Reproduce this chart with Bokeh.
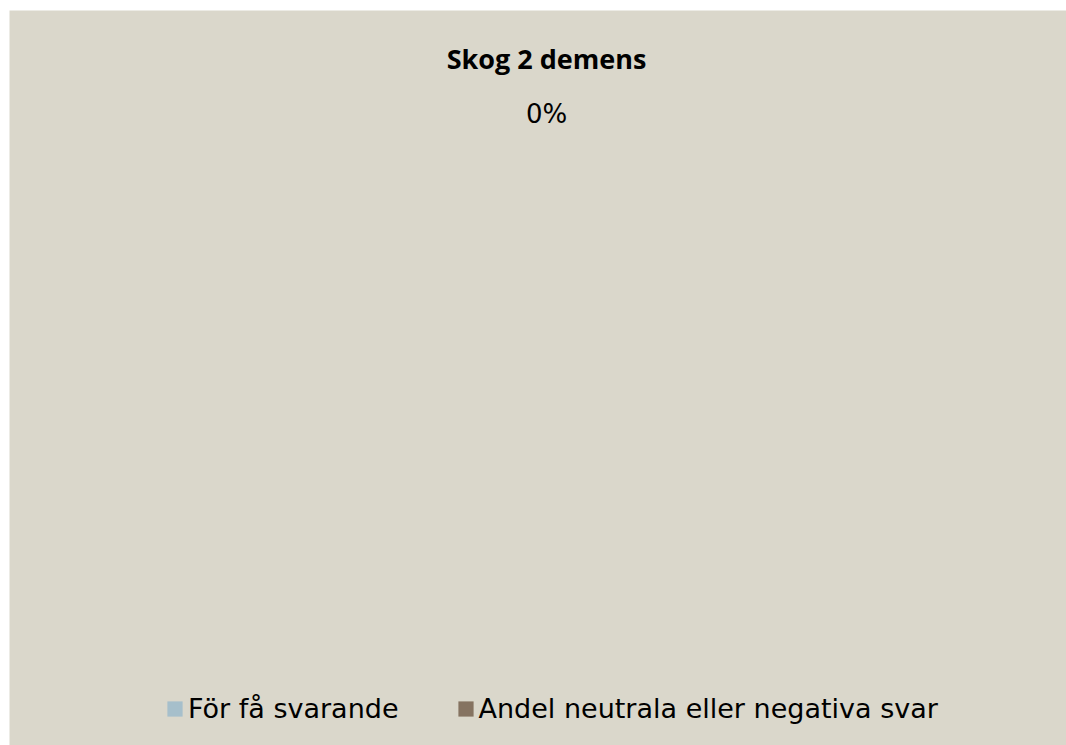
from bokeh.plotting import figure
from bokeh.models import Range1d, Legend, LegendItem, ColumnDataSource
from bokeh.core.properties import value
from bokeh.embed import file_html
from bokeh.resources import INLINE
import math

# ---- data ----
title_text = "Skog 2 demens"
categories = ["För få svarande", "Andel neutrala eller negativa svar"]
values = [float("nan"), 0.0]          # percent
colors = ["#A6BFCB", "#857361"]
bg = "#DAD7CB"

W, H = 1066, 745
L, T = 9, 10
p = figure(width=W, height=H, output_backend="svg", toolbar_location=None,
           x_range=Range1d(L, W), y_range=Range1d(H, T),
           min_border=0, min_border_left=L, min_border_right=0,
           min_border_top=T, min_border_bottom=0)
p.axis.visible = False
p.grid.visible = False
p.outline_line_color = None
p.background_fill_color = bg
p.border_fill_color = "#FFFFFF"

cx = 546
# title drawn as text
p.text(x=[cx], y=[58], text=[title_text], text_font=value("Open Sans"),
       text_font_style="bold", text_font_size="27px", text_align="center",
       text_baseline="alphabetic", text_color="#000000")

# pie
cy, r = 410, 262
valid = [v for v in values if not math.isnan(v)]
total = sum(valid)
start = math.pi / 2
renderers = []
label_x, label_y, label_t = [], [], []
for cat, v, c in zip(categories, values, colors):
    frac = 0.0 if (math.isnan(v) or total == 0) else v / total
    end = start - frac * 2 * math.pi
    # empty slices get zero radius so nothing is drawn
    src = ColumnDataSource(dict(x=[cx], y=[cy], s=[end], e=[start],
                                rad=[r if frac > 0 else 0.0]))
    rr = p.wedge(x="x", y="y", radius="rad", start_angle="s", end_angle="e",
                 direction="anticlock", fill_color=c, line_color=None, source=src)
    renderers.append(rr)
    if not math.isnan(v):
        mid = (start + end) / 2
        label_x.append(cx + (r * 1.13) * math.cos(mid))
        label_y.append(cy - (r * 1.13) * math.sin(mid))
        label_t.append(f"{v:.0f}%")
    start = end

p.text(x=label_x, y=label_y, text=label_t, text_font=value("DejaVu Sans"),
       text_font_size="26px", text_align="center", text_baseline="alphabetic",
       text_color="#000000")

legend = Legend(items=[LegendItem(label=c, renderers=[rr]) for c, rr in zip(categories, renderers)],
                orientation="horizontal", location=(156, 21),
                label_text_font="DejaVu Sans", label_text_font_size="27px",
                label_text_color="#000000",
                glyph_width=19, glyph_height=19, label_standoff=4, spacing=57,
                background_fill_alpha=0, border_line_color=None,
                padding=0, margin=0)
p.add_layout(legend, "center")

open("out.html", "w").write(file_html(p, INLINE))
